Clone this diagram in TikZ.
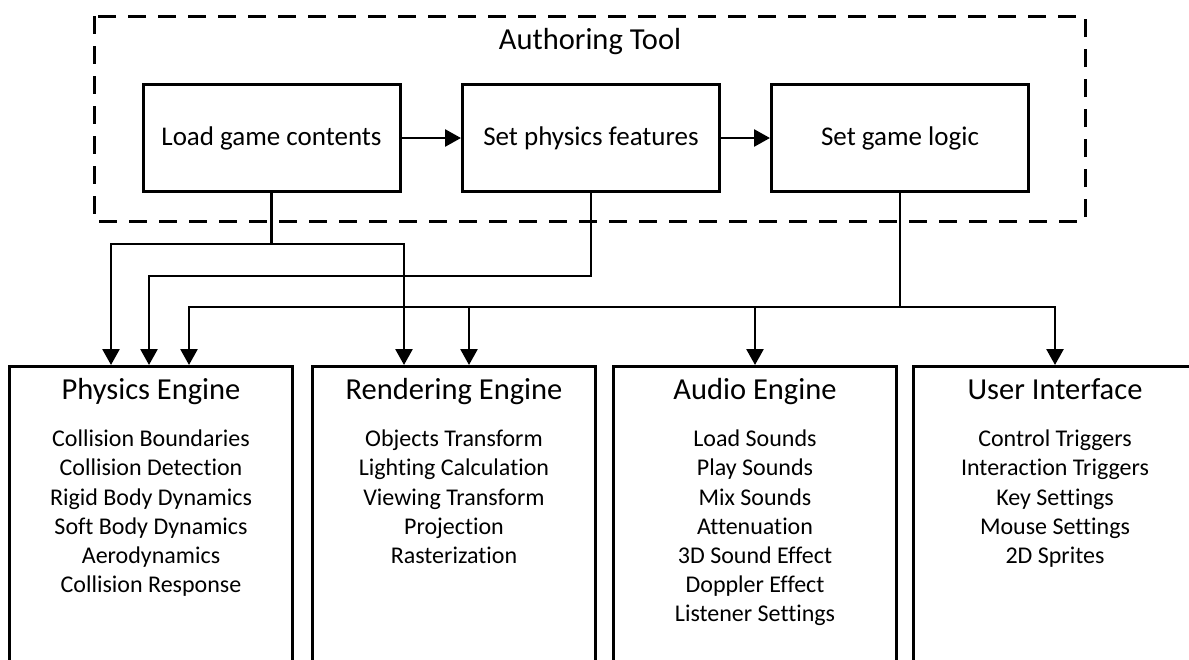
\documentclass[tikz,border=0pt]{standalone}
\usepackage{fontspec}
\setmainfont{Carlito}[Ligatures=NoCommon]
\usetikzlibrary{arrows.meta,positioning,calc}
\tikzset{
  stageBox/.style={draw, line width=3pt, minimum width=257pt, minimum height=107pt, inner sep=0pt, font=\fontsize{27}{32}\selectfont},
  engineBox/.style={draw, line width=3pt, anchor=north west, minimum width=283pt, minimum height=330pt},
  engineTitle/.style={anchor=base, inner sep=0pt, font=\fontsize{30.5}{36}\selectfont},
  engineItem/.style={anchor=base, inner sep=0pt, font=\fontsize{24}{29}\selectfont},
  linkArrow/.style={line width=2.7pt, -{Triangle[length=16pt,width=17pt]}},
}

\begin{document}
\begin{tikzpicture}[x=1pt,y=-1pt]
  \useasboundingbox (0,0) rectangle (1189,659);
  \clip (0,0) rectangle (1189,659);
%  \draw [help lines, step=50] (0,0) grid (1189,659);
  % authoring tool
  \draw [line width=3pt, dash pattern=on 18pt off 12pt] (94,16) rectangle (1085,221);
  \node [engineTitle, anchor=center] (tool) at (590,42) {Authoring Tool};
  \node [stageBox] (load) at (271.5,138) {Load game contents};
  \node [stageBox] (feat) at (591,138) {Set physics features};
  \node [stageBox] (logic) at (900,138) {Set game logic};
  \draw [linkArrow] (load) -- (feat);
  \draw [linkArrow] (feat) -- (logic);

  % engines, open at the bottom
  \node [engineBox] (physBox) at (8,365) {};
  \node [engineBox] (rendBox) at (311,365) {};
  \node [engineBox] (audioBox) at (612,365) {};
  \node [engineBox] (uiBox) at (912,365) {};

  \node [engineTitle] (physTitle) at ($(physBox.north)+(0,34)$) {Physics Engine};
  \node [engineTitle] (rendTitle) at ($(rendBox.north)+(0,34)$) {Rendering Engine};
  \node [engineTitle] (audioTitle) at ($(audioBox.north)+(0,34)$) {Audio Engine};
  \node [engineTitle] (uiTitle) at ($(uiBox.north)+(0,34)$) {User Interface};

  \foreach \txt [count=\i] in {Collision Boundaries, Collision Detection, Rigid Body Dynamics,
      Soft Body Dynamics, Aerodynamics, Collision Response} {
    \node [engineItem] (phys\i) at ($(physBox.north)+(0,52.5+29.2*\i)$) {\txt};
  }
  \foreach \txt [count=\i] in {Objects Transform, Lighting Calculation, Viewing Transform,
      Projection, Rasterization} {
    \node [engineItem] (rend\i) at ($(rendBox.north)+(0,52.5+29.2*\i)$) {\txt};
  }
  \foreach \txt [count=\i] in {Load Sounds, Play Sounds, Mix Sounds, Attenuation,
      3D Sound Effect, Doppler Effect, Listener Settings} {
    \node [engineItem] (audio\i) at ($(audioBox.north)+(0,52.5+29.2*\i)$) {\txt};
  }
  \foreach \txt [count=\i] in {Control Triggers, Interaction Triggers, Key Settings,
      Mouse Settings, 2D Sprites} {
    \node [engineItem] (ui\i) at ($(uiBox.north)+(0,52.5+29.2*\i)$) {\txt};
  }

  % where the wires come in
  \path (physBox.north west) ++(103,0) coordinate (physIn1) ++(38,0) coordinate (physIn2)
    ++(40,0) coordinate (physIn3);
  \path (rendBox.north) ++(-50,0) coordinate (rendIn1) ++(65,0) coordinate (rendIn2);
  \coordinate (loadBus) at (0,244);
  \coordinate (featBus) at (0,276);
  \coordinate (logicBus) at (0,307);

  \draw [linkArrow] (load.south) -- (load.south |- loadBus) -| (physIn1);
  \draw [linkArrow] (load.south |- loadBus) -| (rendIn1);
  \draw [linkArrow] (feat.south) -- (feat.south |- featBus) -| (physIn2);
  \draw [linkArrow] (logic.south) -- (logic.south |- logicBus) -| (physIn3);
  \draw [linkArrow] (logic.south |- logicBus) -| (rendIn2);
  \draw [linkArrow] (logic.south |- logicBus) -| (audioBox.north);
  \draw [linkArrow] (logic.south |- logicBus) -| (uiBox.north);
\end{tikzpicture}
\end{document}
